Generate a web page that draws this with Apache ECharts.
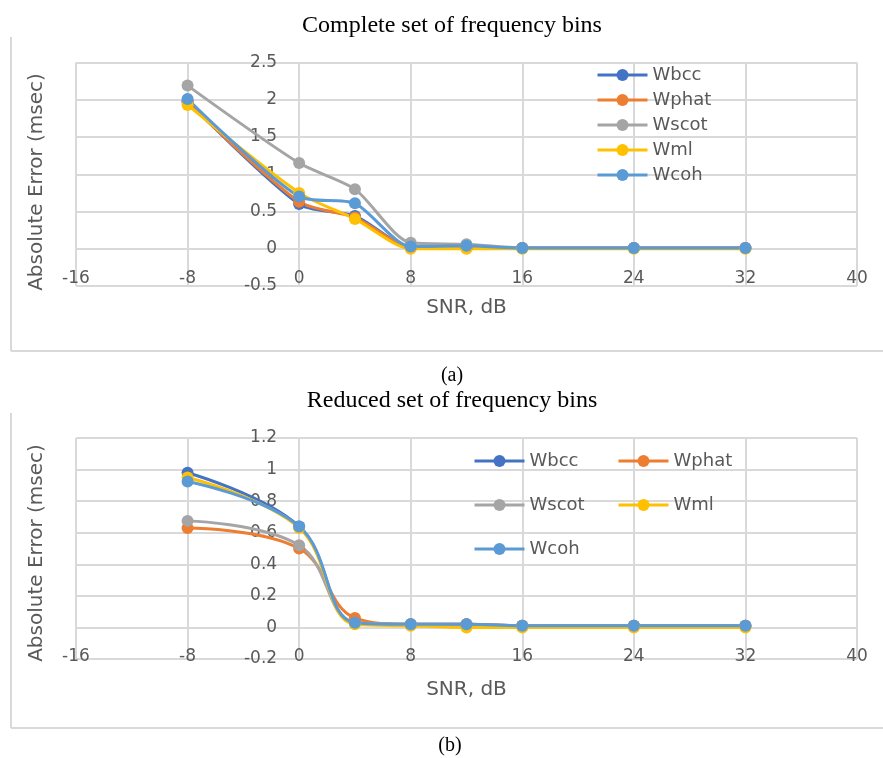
<!DOCTYPE html>
<html><head><meta charset="utf-8">
<script src="https://cdn.jsdelivr.net/npm/echarts@6/dist/echarts.min.js"></script>
<style>html,body{margin:0;padding:0;background:#fff}#c{width:883px;height:758px}</style>
</head><body><div id="c"></div>
<script>
// ---- data ----
const snr = [-8, 0, 4, 8, 12, 16, 24, 32];
const seriesNames = ['Wbcc', 'Wphat', 'Wscot', 'Wml', 'Wcoh'];
const seriesColors = ['#4472C4', '#ED7D31', '#A5A5A5', '#FFC000', '#5B9BD5'];

// (a) Complete set of frequency bins
const wbccA  = [1.98, 0.60, 0.44, 0.02, 0.01, 0.01, 0.01, 0.01];
const wphatA = [1.97, 0.63, 0.42, 0.02, 0.01, 0.01, 0.01, 0.01];
const wscotA = [2.19, 1.15, 0.80, 0.08, 0.06, 0.01, 0.01, 0.01];
const wmlA   = [1.93, 0.75, 0.40, 0.00, 0.00, 0.00, 0.00, 0.00];
const wcohA  = [2.01, 0.70, 0.61, 0.03, 0.04, 0.01, 0.01, 0.01];

// (b) Reduced set of frequency bins
const wbccB  = [0.98, 0.64, 0.03, 0.02, 0.02, 0.01, 0.01, 0.01];
const wphatB = [0.63, 0.50, 0.06, 0.02, 0.02, 0.01, 0.01, 0.01];
const wscotB = [0.675, 0.52, 0.03, 0.02, 0.01, 0.01, 0.01, 0.01];
const wmlB   = [0.95, 0.63, 0.02, 0.01, 0.00, 0.00, 0.00, 0.00];
const wcohB  = [0.925, 0.64, 0.03, 0.02, 0.02, 0.01, 0.01, 0.01];

const xTicks  = [-16, -8, 0, 8, 16, 24, 32, 40];
const yTicksA = [-0.5, 0, 0.5, 1, 1.5, 2, 2.5];
const yTicksB = [-0.2, 0, 0.2, 0.4, 0.6, 0.8, 1, 1.2];

const titleA = 'Complete set of frequency bins';
const titleB = 'Reduced set of frequency bins';
const xName = 'SNR, dB';
const yName = 'Absolute Error (msec)';

// ---- chart ----
const SANS = 'DejaVu Sans';
const SERIF = 'Liberation Serif';
const GRAY = '#595959';
const GRID = '#D9D9D9';
const GRID_LEFT = 76, GRID_RIGHT = 26, CANVAS_W = 883;

const chart = echarts.init(document.getElementById('c'), null, {renderer: 'canvas'});
const fmt = v => String(Math.round(v * 10) / 10);

// the vertical axis crosses the horizontal axis at x = 0 (as in the original)
const plotW = CANVAS_W - GRID_LEFT - GRID_RIGHT;
const zeroOffset = -plotW * (0 - xTicks[0]) / (xTicks[xTicks.length - 1] - xTicks[0]);

function xAxisOf(gi, gap, lblMargin) {
  return {
    type: 'value', gridIndex: gi,
    min: xTicks[0], max: xTicks[xTicks.length - 1], interval: xTicks[1] - xTicks[0],
    axisLine: {show: false, onZero: false},
    axisTick: {show: false},
    axisLabel: {fontFamily: SANS, fontSize: 17, color: GRAY, margin: lblMargin, verticalAlign: 'middle', formatter: fmt},
    splitLine: {show: true, lineStyle: {color: GRID, width: 2}},
    name: xName, nameLocation: 'middle', nameGap: gap, nameMoveOverlap: false,
    nameTextStyle: {fontFamily: SANS, fontSize: 20, color: GRAY, verticalAlign: 'middle'}
  };
}
function yAxisOf(gi, ticks) {
  return {
    type: 'value', gridIndex: gi, position: 'left', offset: zeroOffset,
    min: ticks[0], max: ticks[ticks.length - 1], interval: ticks[1] - ticks[0],
    axisLine: {show: false, onZero: false},
    axisTick: {show: false},
    axisLabel: {fontFamily: SANS, fontSize: 17, color: GRAY, margin: 22, formatter: fmt},
    splitLine: {show: true, lineStyle: {color: GRID, width: 2}}
  };
}

const dataA = [wbccA, wphatA, wscotA, wmlA, wcohA];
const dataB = [wbccB, wphatB, wscotB, wmlB, wcohB];
const smoothBy = [0.25, 0.4];
const series = [];
[dataA, dataB].forEach((set, gi) => {
  set.forEach((arr, j) => {
    series.push({
      type: 'line', name: seriesNames[j], xAxisIndex: gi, yAxisIndex: gi,
      data: snr.map((x, k) => [x, arr[k]]),
      smooth: smoothBy[gi], symbol: 'circle', symbolSize: 12,
      lineStyle: {width: 3, color: seriesColors[j]},
      itemStyle: {color: seriesColors[j]},
      emphasis: {disabled: true}
    });
  });
});

const legendText = {fontFamily: SANS, fontSize: 18, color: GRAY, lineHeight: 20};
const legendBase = {orient: 'vertical', itemWidth: 50, itemHeight: 15, padding: 0, textStyle: legendText,
  selectedMode: false, lineStyle: {width: 3}, itemStyle: {borderWidth: 0}};

const boxLine = {stroke: '#D9D9D9', lineWidth: 2};

chart.setOption({
  animation: false,
  backgroundColor: '#fff',
  title: [
    {text: titleA, left: 452, top: 14, textAlign: 'center', padding: 0, textStyle: {fontFamily: SERIF, fontSize: 24, fontWeight: 'normal', color: '#000'}},
    {text: titleB, left: 452, top: 389, textAlign: 'center', padding: 0, textStyle: {fontFamily: SERIF, fontSize: 24, fontWeight: 'normal', color: '#000'}},
    {text: '(a)', left: 452, top: 366, textAlign: 'center', padding: 0, textStyle: {fontFamily: SERIF, fontSize: 20, fontWeight: 'normal', color: '#000'}},
    {text: '(b)', left: 450, top: 736, textAlign: 'center', padding: 0, textStyle: {fontFamily: SERIF, fontSize: 20, fontWeight: 'normal', color: '#000'}}
  ],
  grid: [
    {left: GRID_LEFT, right: GRID_RIGHT, top: 62.5, height: 223.5, outerBoundsMode: 'none'},
    {left: GRID_LEFT, right: GRID_RIGHT, top: 438, height: 221, outerBoundsMode: 'none'}
  ],
  xAxis: [xAxisOf(0, 22, -7), xAxisOf(1, 31, -2)],
  yAxis: [yAxisOf(0, yTicksA), yAxisOf(1, yTicksB)],
  legend: [
    Object.assign({}, legendBase, {left: 596, top: 65, itemGap: 5, data: seriesNames}),
    Object.assign({}, legendBase, {left: 473, top: 451, itemGap: 24, data: ['Wbcc', 'Wscot', 'Wcoh']}),
    Object.assign({}, legendBase, {left: 617, top: 451, itemGap: 24, data: ['Wphat', 'Wml']})
  ],
  graphic: [
    {type: 'text', x: 37, y: 182, rotation: Math.PI / 2, silent: true,
     style: {text: yName, fontFamily: SANS, fontSize: 20, fill: GRAY, align: 'center', verticalAlign: 'middle'}},
    {type: 'text', x: 37, y: 553, rotation: Math.PI / 2, silent: true,
     style: {text: yName, fontFamily: SANS, fontSize: 20, fill: GRAY, align: 'center', verticalAlign: 'middle'}},
    {type: 'line', silent: true, shape: {x1: 11, y1: 37, x2: 11, y2: 351}, style: boxLine},
    {type: 'line', silent: true, shape: {x1: 11, y1: 351, x2: 883, y2: 351}, style: boxLine},
    {type: 'line', silent: true, shape: {x1: 11, y1: 413, x2: 11, y2: 728}, style: boxLine},
    {type: 'line', silent: true, shape: {x1: 11, y1: 728, x2: 883, y2: 728}, style: boxLine}
  ],
  series: series
});
</script></body></html>
